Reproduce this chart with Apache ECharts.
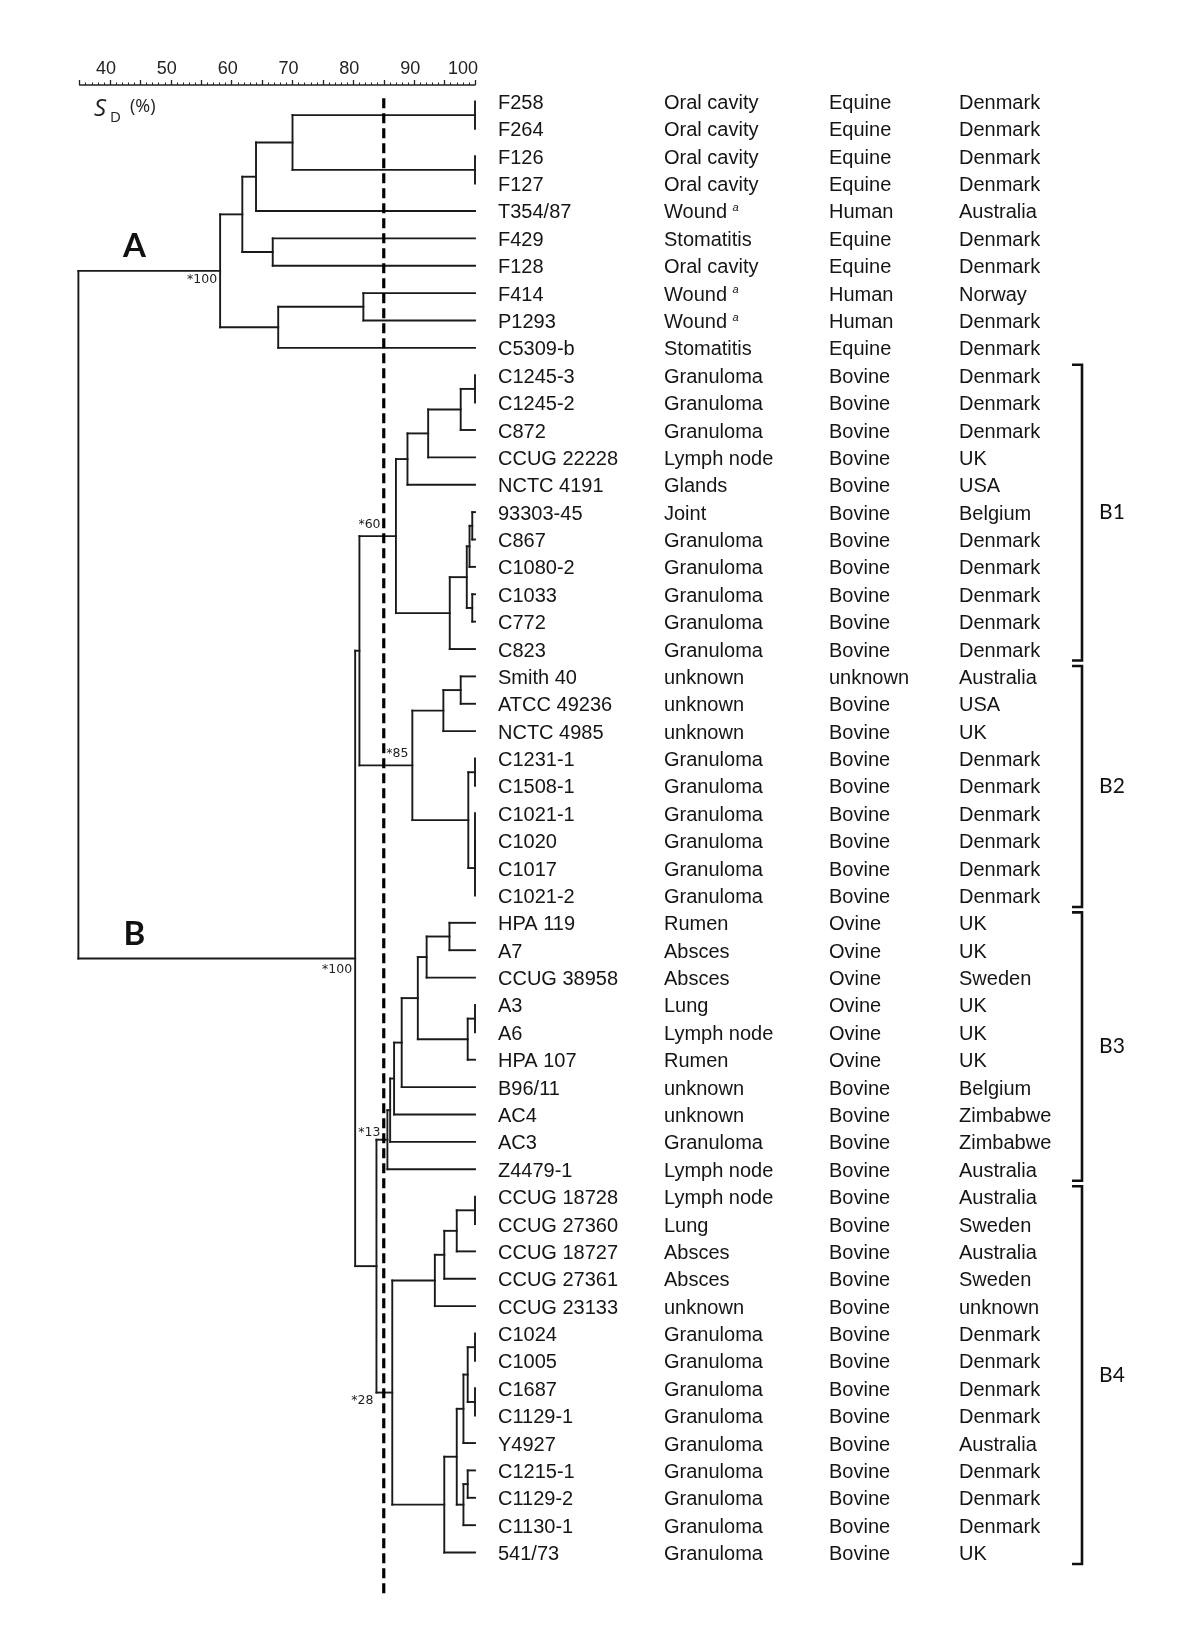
<!DOCTYPE html>
<html><head><meta charset="utf-8">
<script src="https://cdn.jsdelivr.net/npm/echarts@6/dist/echarts.min.js"></script>
<style>html,body{margin:0;padding:0;background:#fff}#c{width:1200px;height:1629px}</style>
</head><body><div id="c"></div>
<script>
// ---------------- data ----------------
const strains = ['F258','F264','F126','F127','T354/87','F429','F128','F414','P1293','C5309-b',
 'C1245-3','C1245-2','C872','CCUG 22228','NCTC 4191','93303-45','C867','C1080-2','C1033','C772','C823',
 'Smith 40','ATCC 49236','NCTC 4985','C1231-1','C1508-1','C1021-1','C1020','C1017','C1021-2',
 'HPA 119','A7','CCUG 38958','A3','A6','HPA 107','B96/11','AC4','AC3','Z4479-1',
 'CCUG 18728','CCUG 27360','CCUG 18727','CCUG 27361','CCUG 23133','C1024','C1005','C1687','C1129-1','Y4927','C1215-1','C1129-2','C1130-1','541/73'];
const sources = ['Oral cavity','Oral cavity','Oral cavity','Oral cavity','Wound^a','Stomatitis','Oral cavity','Wound^a','Wound^a','Stomatitis',
 'Granuloma','Granuloma','Granuloma','Lymph node','Glands','Joint','Granuloma','Granuloma','Granuloma','Granuloma','Granuloma',
 'unknown','unknown','unknown','Granuloma','Granuloma','Granuloma','Granuloma','Granuloma','Granuloma',
 'Rumen','Absces','Absces','Lung','Lymph node','Rumen','unknown','unknown','Granuloma','Lymph node',
 'Lymph node','Lung','Absces','Absces','unknown','Granuloma','Granuloma','Granuloma','Granuloma','Granuloma','Granuloma','Granuloma','Granuloma','Granuloma'];
const hosts = ['Equine','Equine','Equine','Equine','Human','Equine','Equine','Human','Human','Equine',
 'Bovine','Bovine','Bovine','Bovine','Bovine','Bovine','Bovine','Bovine','Bovine','Bovine','Bovine',
 'unknown','Bovine','Bovine','Bovine','Bovine','Bovine','Bovine','Bovine','Bovine',
 'Ovine','Ovine','Ovine','Ovine','Ovine','Ovine','Bovine','Bovine','Bovine','Bovine',
 'Bovine','Bovine','Bovine','Bovine','Bovine','Bovine','Bovine','Bovine','Bovine','Bovine','Bovine','Bovine','Bovine','Bovine'];
const countries = ['Denmark','Denmark','Denmark','Denmark','Australia','Denmark','Denmark','Norway','Denmark','Denmark',
 'Denmark','Denmark','Denmark','UK','USA','Belgium','Denmark','Denmark','Denmark','Denmark','Denmark',
 'Australia','USA','UK','Denmark','Denmark','Denmark','Denmark','Denmark','Denmark',
 'UK','UK','Sweden','UK','UK','UK','Belgium','Zimbabwe','Zimbabwe','Australia',
 'Australia','Sweden','Australia','Sweden','unknown','Denmark','Denmark','Denmark','Denmark','Australia','Denmark','Denmark','Denmark','UK'];

// merges: [cluster id, similarity S_D (%), members...]
const merges = [
 ['a1',100,'F258','F264'], ['a2',100,'F126','F127'], ['a3',70.0,'a1','a2'], ['a4',64.0,'a3','T354/87'],
 ['a5',66.75,'F429','F128'], ['a6',61.75,'a4','a5'], ['a7',81.65,'F414','P1293'], ['a8',67.65,'a7','C5309-b'],
 ['A',58.1,'a6','a8'],
 ['b1a',100,'C1245-3','C1245-2'], ['b1b',97.65,'b1a','C872'], ['b1c',92.3,'b1b','CCUG 22228'], ['b1d',88.9,'b1c','NCTC 4191'],
 ['b1e',99.55,'93303-45','C867'], ['b1f',99.1,'b1e','C1080-2'], ['b1g',99.55,'C1033','C772'], ['b1h',98.65,'b1f','b1g'],
 ['b1i',95.85,'b1h','C823'], ['B1',87.0,'b1d','b1i'],
 ['b2a',97.65,'Smith 40','ATCC 49236'], ['b2b',94.8,'b2a','NCTC 4985'], ['b2c',100,'C1231-1','C1508-1'],
 ['b2d',100,'C1021-1','C1020','C1017'], ['b2e',100,'b2d','C1021-2'], ['b2f',98.9,'b2c','b2e'], ['B2',89.7,'b2b','b2f'],
 ['B12',81.0,'B1','B2'],
 ['b3a',95.8,'HPA 119','A7'], ['b3b',92.05,'b3a','CCUG 38958'], ['b3c',100,'A3','A6'], ['b3d',98.8,'b3c','HPA 107'],
 ['b3e',90.6,'b3b','b3d'], ['b3f',87.95,'b3e','B96/11'], ['b3g',86.7,'b3f','AC4'], ['b3h',86.05,'b3g','AC3'],
 ['B3',85.6,'b3h','Z4479-1'],
 ['b4a',100,'CCUG 18728','CCUG 27360'], ['b4b',97.0,'b4a','CCUG 18727'], ['b4c',94.95,'b4b','CCUG 27361'], ['b4d',93.4,'b4c','CCUG 23133'],
 ['b4e',100,'C1024','C1005'], ['b4f',100,'C1687','C1129-1'], ['b4g',98.8,'b4e','b4f'], ['b4h',98.1,'b4g','Y4927'],
 ['b4i',98.8,'C1215-1','C1129-2'], ['b4j',98.1,'b4i','C1130-1'], ['b4k',97.0,'b4h','b4j'], ['b4l',94.95,'b4k','541/73'],
 ['B4',86.4,'b4d','b4l'],
 ['B34',83.8,'B3','B4'], ['B',80.3,'B12','B34'], ['root',34.8,'A','B']
];
const bootstrap = [['A','*100'],['B','*100'],['B1','*60'],['B2','*85'],['B3','*13'],['B4','*28']];
const majorClusters = ['A','B'];
const bracketGroups = ['B1','B2','B3','B4'];
const cutoff = 85;
const axisMin = 35, axisMax = 100, tickStep = 5, labelStep = 10;

// ---------------- tree layout (derived) ----------------
const nodes = {};
strains.forEach((s, i) => { nodes[s] = {v: 100, y: i, lo: i, hi: i}; });
const segs = [];
merges.forEach(m => {
  const id = m[0], v = m[1], kids = m.slice(2).map(k => nodes[k]);
  const y = (kids[0].y + kids[kids.length - 1].y) / 2;
  nodes[id] = {v, y, lo: Math.min(...kids.map(k => k.lo)), hi: Math.max(...kids.map(k => k.hi)), kids};
  segs.push([v, kids[0].y, v, kids[kids.length - 1].y]);
  kids.forEach(k => { k.parent = nodes[id]; if (k.v !== v) segs.push([v, k.y, k.v, k.y]); });
});

// label placement rules (style, not data)
const notePlace = {
  A:  {ref: 'node',   align: 'right', dx: -3, dy: 9},
  B:  {ref: 'node',   align: 'right', dx: -3, dy: 11},
  B1: {ref: 'parent', align: 'left',  dx: -1, dy: -11},
  B2: {ref: 'node',   align: 'right', dx: -4, dy: -12},
  B3: {ref: 'node',   align: 'right', dx: -7, dy: -7},
  B4: {ref: 'parent', align: 'right', dx: -3, dy: 8}
};

const LINE = '#1a1a1a', TXT = '#151515';
const colX = [498, 664, 829, 959];
const SANS = 'Liberation Sans';

const chart = echarts.init(document.getElementById('c'), null, {renderer: 'canvas'});
const rowMin = -0.6, rowMax = 54.7;

const txt = (x, y, text, o) => Object.assign({type: 'text', style: Object.assign({x, y, text, fill: TXT,
  fontFamily: SANS, fontSize: 20, align: 'left', verticalAlign: 'middle'}, o || {})});

const option = {
  backgroundColor: '#fff',
  animation: false,
  grid: {left: 79.6, right: 725, top: 85, bottom: 29.9},
  xAxis: {
    type: 'value', position: 'top', min: axisMin, max: axisMax, interval: tickStep,
    axisLine: {show: true, onZero: false, lineStyle: {color: '#222', width: 1.5}},
    axisTick: {show: true, length: 5, lineStyle: {color: '#222', width: 1.3}},
    minorTick: {show: true, splitNumber: 5, length: 2.5, lineStyle: {color: '#222', width: 1}},
    splitLine: {show: false},
    axisLabel: {
      margin: 7, color: '#222', fontSize: 18, fontFamily: SANS,
      formatter: v => v % labelStep === 0 ? (v === axisMax ? '{e|' + v + '}' : '{n|' + v + '}') : '',
      rich: {
        n: {fontSize: 18, fontFamily: SANS, color: '#222', padding: [0, 8, 0, 0]},
        e: {fontSize: 18, fontFamily: SANS, color: '#222', padding: [0, 24, 0, 0]}
      }
    }
  },
  yAxis: {type: 'value', inverse: true, min: rowMin, max: rowMax, show: false},
  graphic: [
    {type: 'text', left: 94, top: 97, style: {text: 'S', fontStyle: 'italic', fontSize: 24, fontFamily: 'Open Sans', fill: '#222'}},
    {type: 'text', left: 110, top: 110, style: {text: 'D', fontSize: 15, fontFamily: 'Open Sans', fill: '#222'}},
    {type: 'text', left: 130, top: 98, style: {text: '(%)', fontSize: 18, fontFamily: 'Open Sans', fill: '#222'}}
  ],
  series: [
    { // dendrogram branches
      type: 'custom', coordinateSystem: 'cartesian2d', clip: false, silent: true,
      data: segs,
      encode: {x: [0, 2], y: [1, 3]},
      renderItem: (params, api) => {
        const p1 = api.coord([api.value(0), api.value(1)]);
        const p2 = api.coord([api.value(2), api.value(3)]);
        return {type: 'line', shape: {x1: p1[0], y1: p1[1], x2: p2[0], y2: p2[1]},
          style: {stroke: LINE, lineWidth: 1.9, lineCap: 'square'}};
      }
    },
    { // cutoff dashed line
      type: 'custom', coordinateSystem: 'cartesian2d', clip: false, silent: true, z: 3,
      data: [[cutoff, -0.12, cutoff, 54.6]],
      encode: {x: [0, 2], y: [1, 3]},
      renderItem: (params, api) => {
        const p1 = api.coord([api.value(0), api.value(1)]);
        const p2 = api.coord([api.value(2), api.value(3)]);
        return {type: 'line', shape: {x1: p1[0], y1: p1[1], x2: p2[0], y2: p2[1]},
          style: {stroke: '#000', lineWidth: 3.2, lineDash: [10, 5]}};
      }
    },
    { // strain table
      type: 'custom', coordinateSystem: 'cartesian2d', clip: false, silent: true,
      data: strains.map((s, i) => [axisMax, i]),
      renderItem: (params, api) => {
        const i = params.dataIndex;
        const y = api.coord([axisMax, i])[1] + 2;
        const src = sources[i];
        const srcEl = src.endsWith('^a')
          ? txt(colX[1], y, src.replace('^a', '') + ' {sup|a}', {rich: {sup: {fontFamily: SANS, fontStyle: 'italic', fontSize: 11, fill: TXT, verticalAlign: 'top', padding: [0, 0, 10, 0]}}})
          : txt(colX[1], y, src);
        return {type: 'group', children: [txt(colX[0], y, strains[i]), srcEl, txt(colX[2], y, hosts[i]), txt(colX[3], y, countries[i])]};
      }
    },
    { // bootstrap notes + A/B labels
      type: 'custom', coordinateSystem: 'cartesian2d', clip: false, silent: true,
      data: bootstrap.map(b => [nodes[b[0]].v, nodes[b[0]].y]),
      renderItem: (params, api) => {
        const [id, note] = bootstrap[params.dataIndex];
        const n = nodes[id], pl = notePlace[id];
        const yy = api.coord([n.v, n.y])[1];
        const xx = pl.ref === 'node' ? api.coord([n.v, n.y])[0] : api.coord([n.parent.v, n.y])[0];
        const children = [txt(xx + pl.dx, yy + pl.dy, note, {fill: '#222', fontFamily: 'DejaVu Sans', fontSize: 12.5, align: pl.align})];
        if (majorClusters.includes(id)) {
          const px = api.coord([n.parent.v, n.y])[0];
          children.push(txt(px + 56, yy - 24, id, {fill: '#111', fontFamily: 'Lato', fontWeight: 'bold', fontSize: 33, align: 'center'}));
        }
        return {type: 'group', children};
      }
    },
    { // cluster brackets B1-B4
      type: 'custom', coordinateSystem: 'cartesian2d', clip: false, silent: true,
      data: bracketGroups.map(g => [axisMax, nodes[g].y]),
      renderItem: (params, api) => {
        const g = bracketGroups[params.dataIndex], n = nodes[g];
        const yTop = api.coord([axisMax, n.lo - 0.38])[1];
        const yBot = api.coord([axisMax, n.hi + 0.42])[1];
        const bx = 1082;
        return {type: 'group', children: [
          {type: 'polyline', shape: {points: [[bx - 10, yTop], [bx, yTop], [bx, yBot], [bx - 10, yBot]]},
            style: {stroke: '#111', lineWidth: 2.6, fill: null}},
          txt(1112, (yTop + yBot) / 2, g, {fill: '#111', fontFamily: 'Lato', fontSize: 21, align: 'center'})
        ]};
      }
    }
  ]
};
chart.setOption(option);
</script></body></html>
